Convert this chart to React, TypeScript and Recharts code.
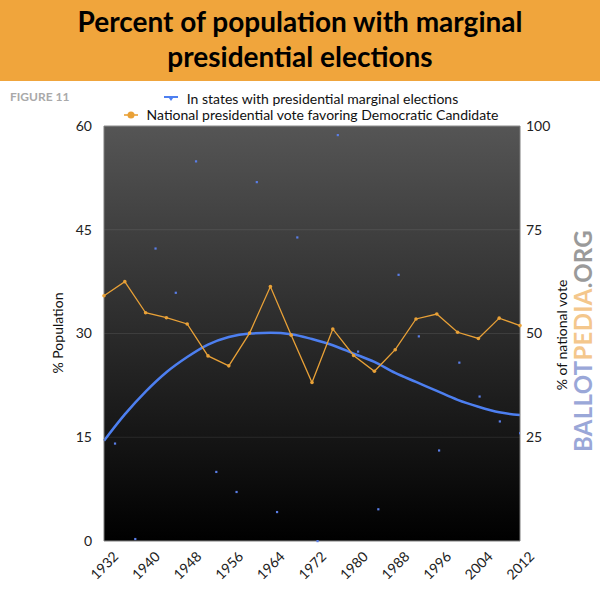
import React from "react";
import {
  CartesianGrid,
  ComposedChart,
  Line,
  ReferenceLine,
  Scatter,
  XAxis,
  YAxis,
} from "recharts";

const years = [
  1932, 1936, 1940, 1944, 1948, 1952, 1956, 1960, 1964, 1968, 1972, 1976,
  1980, 1984, 1988, 1992, 1996, 2000, 2004, 2008, 2012,
];
const democraticVote = [
  59.1, 62.5, 55.0, 53.8, 52.3, 44.6, 42.2, 50.1, 61.3, 49.6, 38.2, 51.1,
  44.7, 40.9, 46.1, 53.5, 54.7, 50.3, 48.8, 53.7, 51.9,
];
const marginalTrend = [
  14.5, 18.3, 21.6, 24.4, 26.6, 28.4, 29.5, 30.0, 30.1, 29.9, 29.2, 28.3,
  27.1, 25.9, 24.3, 23.0, 21.7, 20.4, 19.4, 18.6, 18.2,
];
const marginalStates = [
  14.1, 0.3, 42.3, 35.9, 54.9, 10.0, 7.1, 51.9, 4.2, 43.9, 0.0, 58.7, 27.4,
  4.6, 38.5, 29.6, 13.1, 25.8, 20.9, 17.3, 15.6,
];
const xTicks = [1932, 1940, 1948, 1956, 1964, 1972, 1980, 1988, 1996, 2004, 2012];
const leftTicks = [0, 15, 30, 45, 60];
const rightTicks = [25, 50, 75, 100];

const lineData = years.map((year, i) => ({
  year,
  vote: democraticVote[i],
  trend: marginalTrend[i],
}));
const scatterData = marginalStates.map((v, i) => ({ i, v }));

const FONT = "Lato, 'Noto Sans', sans-serif";
const ORANGE = "#e9a137";
const BLUE = "#4d7ff0";

const YearTick = (props: any) => {
  const { x, y, payload } = props;
  const cy = y + 24;
  return (
    <text
      x={x}
      y={cy}
      textAnchor="middle"
      dominantBaseline="central"
      transform={`rotate(-45, ${x}, ${cy})`}
      fontSize={14}
      fontFamily={FONT}
      fill="#222"
    >
      {payload.value}
    </text>
  );
};

const Dot = (props: any) => (
  <rect x={props.cx - 1} y={props.cy - 1} width={2.2} height={2.2} fill="#5a7ee8" />
);

export default function App() {
  return (
    <div
      style={{
        position: "absolute",
        top: 0,
        left: 0,
        width: 600,
        height: 600,
        background: "#fff",
        fontFamily: FONT,
        overflow: "hidden",
      }}
    >
      <svg width={0} height={0} style={{ position: "absolute" }}>
        <defs>
          <linearGradient id="plotBg" x1="0" y1="0" x2="0" y2="1">
            <stop offset="0%" stopColor="#555555" />
            <stop offset="100%" stopColor="#000000" />
          </linearGradient>
        </defs>
      </svg>
      <div
        style={{
          height: 81,
          background: "#f0a53c",
          textAlign: "center",
          fontWeight: 700,
          fontSize: 28,
          lineHeight: "35px",
          paddingTop: 4,
          boxSizing: "border-box",
          color: "#000",
        }}
      >
        Percent of population with marginal
        <br />
        presidential elections
      </div>
      <div
        style={{
          position: "absolute",
          left: 10,
          top: 89,
          fontSize: 12,
          fontWeight: 700,
          color: "#a9a9a9",
        }}
      >
        FIGURE 11
      </div>
      <div
        style={{
          position: "absolute",
          left: 0,
          top: 91,
          width: 622,
          display: "flex",
          flexDirection: "column",
          alignItems: "center",
          fontSize: 14,
          color: "#111",
          lineHeight: "16px",
        }}
      >
        <div style={{ display: "flex", alignItems: "center" }}>
          <svg width={14} height={10} style={{ marginRight: 9 }}>
            <rect x={0} y={2} width={14} height={2} fill={BLUE} />
            <path d="M3.5 2 L10.5 2 L7 7 Z" fill={BLUE} />
          </svg>
          In states with presidential marginal elections
        </div>
        <div style={{ display: "flex", alignItems: "center" }}>
          <svg width={14} height={10} style={{ marginRight: 9 }}>
            <rect x={0} y={4.2} width={14} height={1.6} fill={ORANGE} />
            <circle cx={7} cy={5} r={3.5} fill={ORANGE} />
          </svg>
          National presidential vote favoring Democratic Candidate
        </div>
      </div>
      <div
        style={{
          position: "absolute",
          left: 57,
          top: 333,
          transform: "translate(-50%, -50%) rotate(-90deg)",
          fontSize: 14,
          color: "#111",
          whiteSpace: "nowrap",
        }}
      >
        % Population
      </div>
      <div
        style={{
          position: "absolute",
          left: 561,
          top: 335,
          transform: "translate(-50%, -50%) rotate(-90deg)",
          fontSize: 14,
          color: "#111",
          whiteSpace: "nowrap",
        }}
      >
        % of national vote
      </div>
      <div
        style={{
          position: "absolute",
          left: 582,
          top: 341,
          transform: "translate(-50%, -50%) rotate(-90deg)",
          fontSize: 24,
          fontWeight: 700,
          whiteSpace: "nowrap",
          letterSpacing: 0.3,
        }}
      >
        <span style={{ color: "#9aa7d8" }}>BALLOT</span>
        <span style={{ color: "#f4c78c" }}>PEDIA</span>
        <span style={{ color: "#9a9a9a" }}>.ORG</span>
      </div>
      <div style={{ position: "absolute", left: 0, top: 0 }}>
        <ComposedChart
          width={600}
          height={600}
          data={lineData}
          margin={{ top: 126, right: 0, bottom: 29, left: 0 }}
        >
          <CartesianGrid
            vertical={false}
            fill="url(#plotBg)"
            stroke="rgba(255,255,255,0.09)"
            yAxisId="left"
          />
          <XAxis
            dataKey="year"
            type="number"
            height={30}
            domain={[1932, 2012]}
            ticks={xTicks}
            tickLine={false}
            tickSize={0}
            tickMargin={0}
            axisLine={{ stroke: "#7d7d7d" }}
            tick={<YearTick />}
            interval={0}
          />
          <XAxis
            xAxisId="b"
            dataKey="i"
            type="number"
            domain={[-0.54, 20]}
            allowDataOverflow
            hide
          />
          <YAxis
            yAxisId="left"
            width={104}
            domain={[0, 60]}
            ticks={leftTicks}
            tickLine={false}
            tickSize={0}
            tickMargin={12}
            axisLine={{ stroke: "#7d7d7d" }}
            tick={{ fontSize: 14, fill: "#222", fontFamily: FONT }}
            interval={0}
          />
          <YAxis
            yAxisId="right"
            orientation="right"
            width={80}
            domain={[0, 100]}
            ticks={rightTicks}
            tickLine={false}
            tickSize={0}
            tickMargin={6}
            axisLine={{ stroke: "#7d7d7d" }}
            tick={{ fontSize: 14, fill: "#222", fontFamily: FONT }}
            interval={0}
          />
          <ReferenceLine yAxisId="left" y={60} stroke="#8a8a8a" />
          <Line
            yAxisId="left"
            dataKey="trend"
            type="monotone"
            stroke={BLUE}
            strokeWidth={2.5}
            dot={false}
            isAnimationActive={false}
          />
          <Line
            yAxisId="right"
            dataKey="vote"
            type="linear"
            stroke={ORANGE}
            strokeWidth={1.3}
            dot={{ r: 1.8, fill: ORANGE, stroke: ORANGE, strokeWidth: 0 }}
            isAnimationActive={false}
          />
          <Scatter
            xAxisId="b"
            yAxisId="left"
            data={scatterData}
            dataKey="v"
            shape={<Dot />}
            isAnimationActive={false}
          />
        </ComposedChart>
      </div>
    </div>
  );
}
